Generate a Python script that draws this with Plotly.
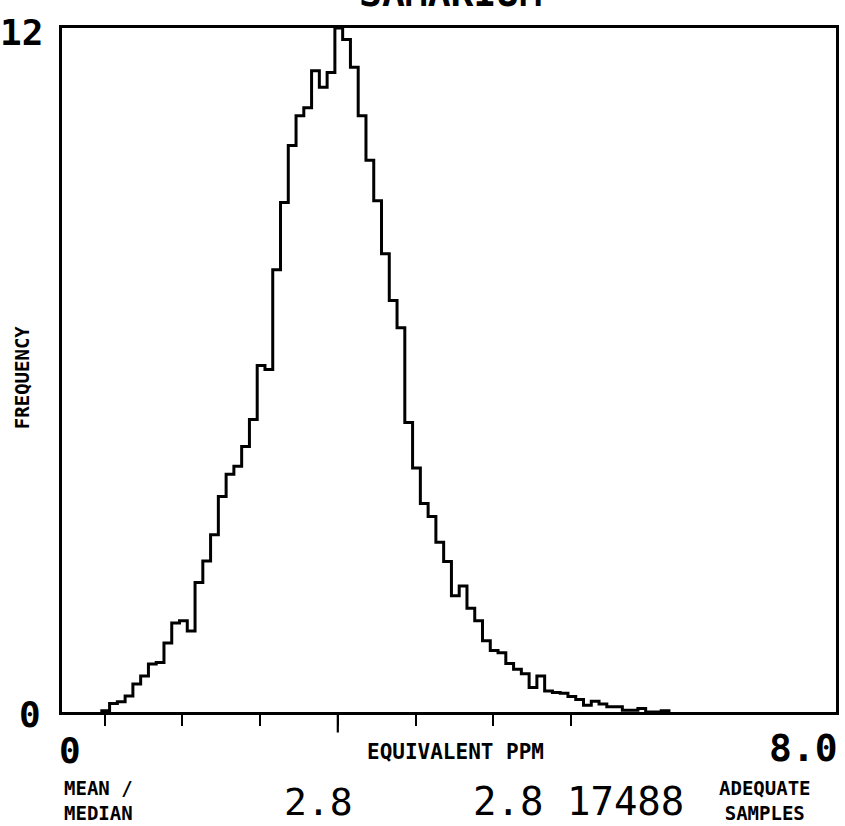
import plotly.graph_objects as go

# ---- data ----
bin_start = 0.37
bin_width = 0.08
frequency = [0.02, 0.15, 0.18, 0.28, 0.49, 0.63, 0.84, 0.87, 1.21, 1.56,
             1.60, 1.42, 2.27, 2.65, 3.11, 3.78, 4.17, 4.31, 4.66, 5.13,
             6.08, 6.01, 7.76, 8.94, 9.94, 10.46, 10.60, 11.25, 10.96, 11.22,
             12.0, 11.80, 11.31, 10.46, 9.68, 8.97, 8.04, 7.22, 6.74, 5.08,
             4.28, 3.66, 3.43, 2.98, 2.64, 2.04, 2.21, 1.82, 1.60, 1.25,
             1.08, 1.04, 0.85, 0.75, 0.67, 0.43, 0.63, 0.37, 0.34, 0.33,
             0.27, 0.22, 0.12, 0.19, 0.14, 0.09, 0.09, 0.03, 0.03, 0.06,
             0.0, 0.0, 0.02]
tick_values = [0.4, 1.2, 2.0, 2.8, 3.6, 4.4, 5.2]
mean_value = 2.8
median_value = 2.8
n_samples = 17488
title_text = "SAMARIUM"
x_min_label = "0"
x_max_label = "8.0"
y_min_label = "0"
y_max_label = "12"

# ---- layout geometry ----
W, H = 845, 826
L, R, T, B = 62, 839, 28, 712

def px(x):
    return (x - L) / (R - L)

def py(y):
    return (B - y) / (B - T)

edges = [bin_start + i * bin_width for i in range(len(frequency) + 1)]
xs = [edges[0]] + edges
ys = [0] + frequency + [0]

fig = go.Figure()
fig.add_trace(go.Scatter(x=xs, y=ys, mode="lines", line=dict(color="black", width=3, shape="hv"),
                         hoverinfo="skip", showlegend=False))

fig.update_xaxes(range=[-0.04, 7.93], showgrid=False, zeroline=False, showline=True, linecolor="black",
                 linewidth=2.8, mirror=True, ticks="outside", ticklen=11, tickwidth=2.2, tickcolor="black",
                 tickvals=tick_values, showticklabels=False)
fig.update_yaxes(range=[0, 12], showgrid=False, zeroline=False, showline=True, linecolor="black",
                 linewidth=2.8, mirror=True, showticklabels=False, ticks="")

# long tick at mean
fig.add_shape(type="line", xref="x", yref="paper", x0=mean_value, x1=mean_value, y0=0, y1=-0.03,
              line=dict(color="black", width=2.2))

FONT = "DejaVu Sans Mono"
ann = []
def add(text, x, y, size, xanchor="center", yanchor="middle", angle=0, bold=True, align="center"):
    ann.append(dict(text=text, x=px(x), y=py(y), xref="paper", yref="paper", showarrow=False,
                    xanchor=xanchor, yanchor=yanchor, textangle=angle, align=align,
                    font=dict(family=FONT, size=size, color="black",
                              weight="bold" if bold else "normal")))

add(title_text, 452, 17, 38, yanchor="bottom")
add(y_max_label, 21, 33, 36)
add(y_min_label, 30, 715, 36)
add("FREQUENCY", 22, 377, 19, angle=-90)
add(x_min_label, 70, 750, 36)
add(x_max_label, 843, 748, 38, xanchor="right")
add("EQUIVALENT PPM", 457, 752, 21)
add("MEAN /<br>MEDIAN", 62, 826, 19, xanchor="left", yanchor="bottom", align="left")
add(f"{mean_value}", 319, 826, 38, yanchor="bottom", bold=False)
add(f"{median_value} {n_samples}", 581, 826, 39, yanchor="bottom", bold=False)
add("ADEQUATE<br>SAMPLES", 768, 826, 19, yanchor="bottom")

fig.update_layout(width=W, height=H, margin=dict(l=L, r=W - R, t=T, b=H - B),
                  paper_bgcolor="white", plot_bgcolor="white", annotations=ann, showlegend=False)

fig.write_html("out.html", config={"displayModeBar": False},
               post_script="document.body.style.margin='0';document.body.style.overflow='hidden';")
